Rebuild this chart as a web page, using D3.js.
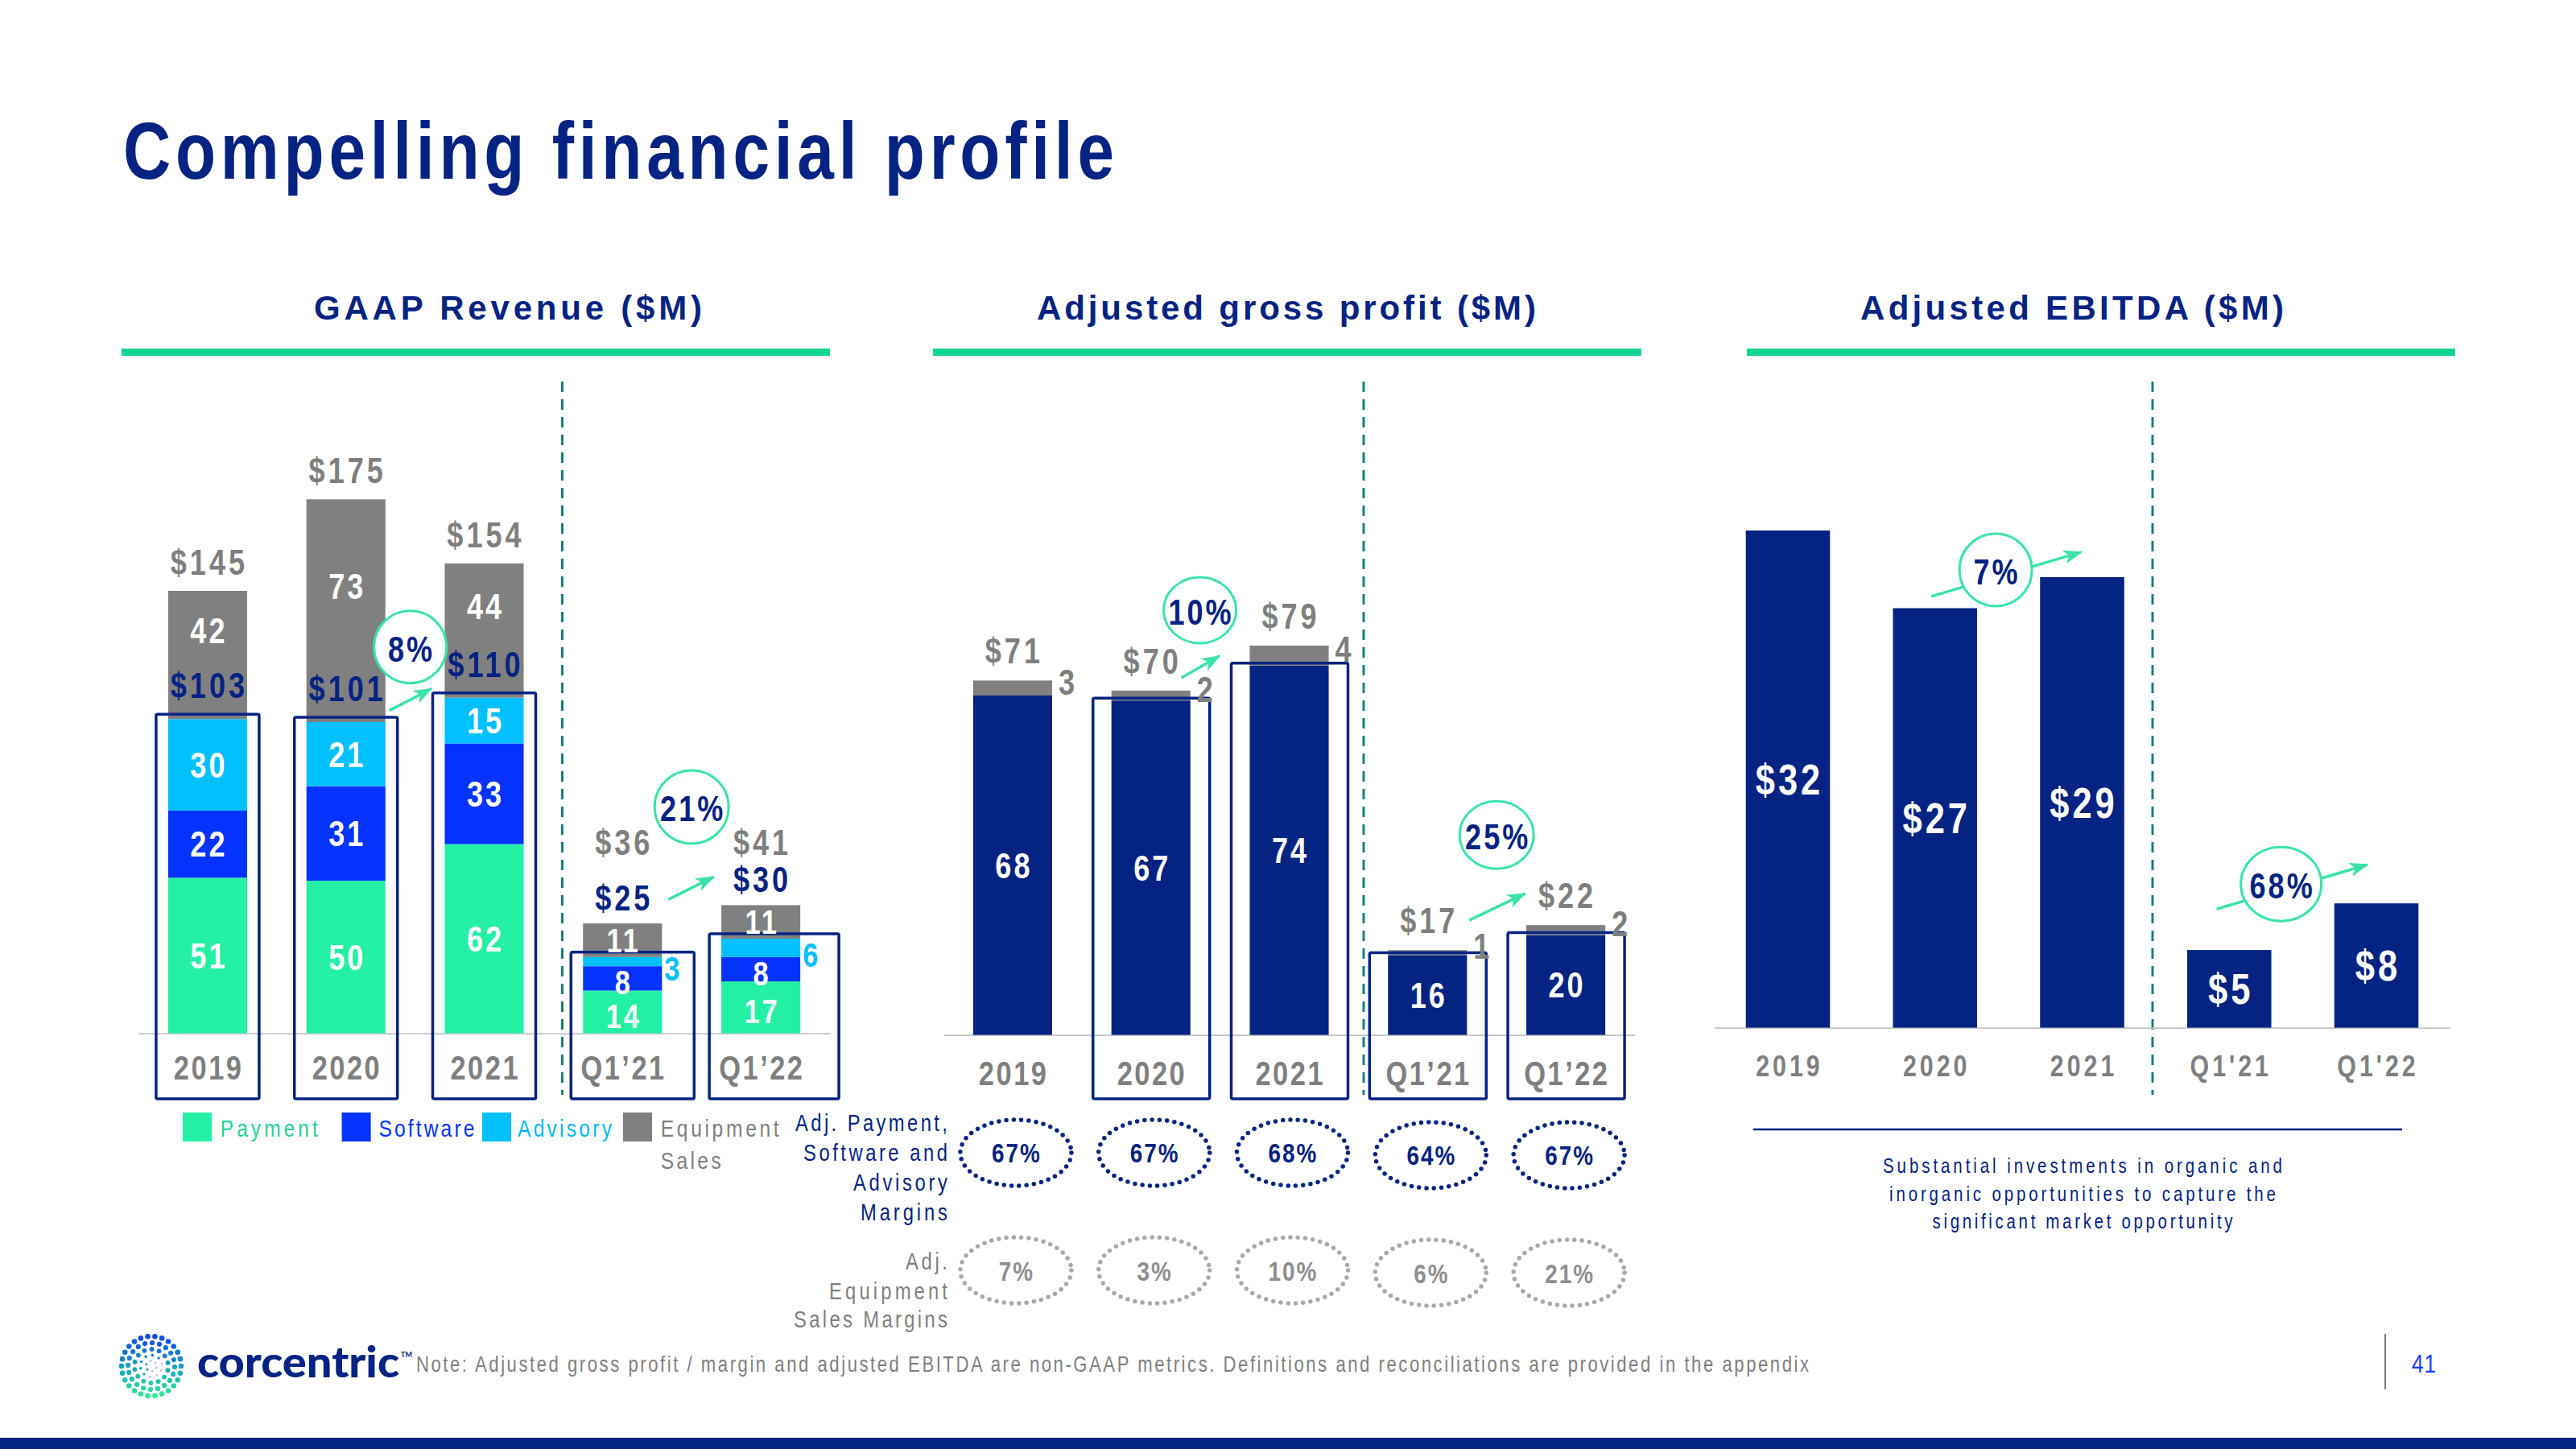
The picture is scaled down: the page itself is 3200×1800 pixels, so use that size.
<!DOCTYPE html>
<html><head><meta charset="utf-8">
<script src="https://cdn.jsdelivr.net/npm/d3@7"></script>
<style>html,body{margin:0;padding:0;background:#fff;} svg{display:block;}</style>
</head><body>
<svg id="c" width="3200" height="1800"></svg>
<script>
// ---------------- DATA ----------------
const categories = ["2019", "2020", "2021", "Q1’21", "Q1’22"];
const revPayment = [51, 50, 62, 14, 17];
const revSoftware = [22, 31, 33, 8, 8];
const revAdvisory = [30, 21, 15, 3, 6];
const revEquipment = [42, 73, 44, 11, 11];
const revSubtotalLabels = ["$103", "$101", "$110", "$25", "$30"];
const revTotalLabels = ["$145", "$175", "$154", "$36", "$41"];
const revGrowth = ["8%", "21%"];
const legendItems = ["Payment", "Software", "Advisory", "Equipment", "Sales"];

const gpServices = [68, 67, 74, 16, 20];
const gpEquipment = [3, 2, 4, 1, 2];
const gpTotalLabels = ["$71", "$70", "$79", "$17", "$22"];
const gpGrowth = ["10%", "25%"];
const marginServices = ["67%", "67%", "68%", "64%", "67%"];
const marginEquipment = ["7%", "3%", "10%", "6%", "21%"];

const ebitdaCategories = ["2019", "2020", "2021", "Q1'21", "Q1'22"];
const ebitda = [32, 27, 29, 5, 8];
const ebitdaGrowth = ["7%", "68%"];

// ---------------- STYLE / LAYOUT ----------------
const NAVY = "#052382", GRAY = "#7f7f7f", HEAD_GREEN = "#12d68e", BUB = "#3be3a9", TEAL = "#16807e";
const C_PAY = "#24f0a5", C_SW = "#0433ff", C_ADV = "#00c0ff", C_EQ = "#808080";

const NARROW_OK = (() => {
  const c = document.createElement('canvas').getContext('2d');
  c.font = 'bold 40px "Liberation Sans Narrow", monospace';
  const a = c.measureText('abcdefghij0123ABC').width;
  c.font = 'bold 40px monospace';
  const b = c.measureText('abcdefghij0123ABC').width;
  return Math.abs(a - b) > 1;
})();
const FAM = NARROW_OK ? '"Liberation Sans Narrow","Arial Narrow",sans-serif' : '"Liberation Sans",Arial,sans-serif';
const WIDE = '"Liberation Sans",Arial,sans-serif';
const SX = NARROW_OK ? 1 : 0.82;

const svg = d3.select('#c');
svg.append('rect').attr('width', 3200).attr('height', 1800).attr('fill', '#fff');
const defs = svg.append('defs');
defs.append('marker').attr('id', 'ah').attr('viewBox', '0 0 22 16').attr('refX', 20).attr('refY', 8)
  .attr('markerWidth', 24).attr('markerHeight', 18).attr('markerUnits', 'userSpaceOnUse').attr('orient', 'auto')
  .append('path').attr('d', 'M0,0 L22,8 L0,16 L6,8 Z').attr('fill', BUB);

function T(parent, x, y, s, o) {
  o = o || {};
  const size = o.size || 30, ls = o.ls || 0, anchor = o.anchor || 'start';
  const sx = o.family ? 1 : SX;
  const yy = o.mid ? y + size * 0.36 : y;
  let xx = x;
  if (ls && !o.len) { if (anchor === 'middle') xx += ls / 2; else if (anchor === 'end') xx += ls; }
  const t = parent.append('text').attr('x', xx).attr('y', yy).text(s)
    .attr('font-family', o.family || FAM).attr('font-size', size).attr('font-weight', o.weight || 'normal')
    .attr('fill', o.fill || '#000').attr('text-anchor', anchor);
  if (ls && !o.len) t.attr('letter-spacing', ls / sx);
  if (o.len) t.attr('textLength', o.len / sx).attr('lengthAdjust', 'spacing');
  if (sx !== 1) t.attr('transform', `translate(${xx},${yy}) scale(${sx},1) translate(${-xx},${-yy})`);
  return t;
}
function styleAxis(g, size, ls) {
  g.select('.domain').attr('stroke', '#c4c4c4').attr('stroke-width', 1.6);
  g.selectAll('.tick line').remove();
  g.selectAll('text').attr('font-family', FAM).attr('font-size', size).attr('font-weight', 'bold')
    .attr('fill', GRAY).attr('letter-spacing', ls / SX).attr('dx', (ls / 2) / SX)
    .attr('transform', SX !== 1 ? `scale(${SX},1)` : null);
}
function header(cx, x0, x1, label, len) {
  T(svg, cx, 397, label, { size: 42, weight: 'bold', fill: NAVY, anchor: 'middle', len: len, family: WIDE });
  svg.append('rect').attr('x', x0).attr('y', 433).attr('width', x1 - x0).attr('height', 9).attr('fill', HEAD_GREEN);
}
function divider(x) {
  svg.append('line').attr('x1', x).attr('x2', x).attr('y1', 474).attr('y2', 1360)
    .attr('stroke', TEAL).attr('stroke-width', 3).attr('stroke-dasharray', '13 9');
}
function bubble(g, label, cx, cy, rx, ry, a0, a1) {
  g.append('line').attr('x1', a0[0]).attr('y1', a0[1]).attr('x2', a1[0]).attr('y2', a1[1])
    .attr('stroke', BUB).attr('stroke-width', 3.5).attr('marker-end', 'url(#ah)');
  g.append('ellipse').attr('cx', cx).attr('cy', cy).attr('rx', rx).attr('ry', ry)
    .attr('fill', '#fff').attr('stroke', BUB).attr('stroke-width', 3);
  T(g, cx, cy + 2, label, { size: 44, weight: 'bold', fill: NAVY, anchor: 'middle', mid: true, ls: 3 });
}
const isQ = c => c.startsWith('Q');

// ---------------- TITLE ----------------
T(svg, 153, 222, "Compelling financial profile", { size: 100, weight: 'bold', fill: NAVY, len: 1231 });

header(631, 151, 1031, "GAAP Revenue ($M)", 482);
header(1598, 1159, 2039, "Adjusted gross profit ($M)", 620);
header(2574, 2170, 3050, "Adjusted EBITDA ($M)", 526);
divider(698.5); divider(1694); divider(2674);

// ---------------- LEFT: GAAP REVENUE ----------------
const xL = d3.scaleBand().domain(categories).range([172, 1031]).paddingInner(0.429).paddingOuter(0.2145);
const yL = d3.scaleLinear().domain([0, 175]).range([1283.6, 620.3]);
const bwL = xL.bandwidth();
const gL = svg.append('g');
const axL = gL.append('g').attr('transform', `translate(0,${yL(0)})`)
  .call(d3.axisBottom(xL).tickSize(0).tickPadding(27.6).tickSizeOuter(0));
styleAxis(axL, 42, 2.5);

const revRows = categories.map((c, i) => ({ cat: c, Payment: revPayment[i], Software: revSoftware[i], Advisory: revAdvisory[i], Equipment: revEquipment[i] }));
const revKeys = ["Payment", "Software", "Advisory", "Equipment"];
const revColors = { Payment: C_PAY, Software: C_SW, Advisory: C_ADV, Equipment: C_EQ };
const revStack = d3.stack().keys(revKeys)(revRows);
revStack.forEach(s => {
  gL.selectAll(null).data(s).enter().append('rect')
    .attr('x', d => xL(d.data.cat)).attr('width', bwL)
    .attr('y', d => yL(d[1])).attr('height', d => yL(d[0]) - yL(d[1]))
    .attr('fill', revColors[s.key]);
});
const boxExtraL = [0, 0, 0, 25, 33];
categories.forEach((c, i) => {
  const sub = revPayment[i] + revSoftware[i] + revAdvisory[i];
  const cx = xL(c) + bwL / 2;
  const top = yL(sub) - 6;
  gL.append('rect').attr('x', cx - 64).attr('y', top).attr('width', 128 + boxExtraL[i]).attr('height', 1365 - top)
    .attr('rx', 2).attr('fill', 'none').attr('stroke', NAVY).attr('stroke-width', 3.5);
});
revStack.forEach(s => {
  s.forEach((d, i) => {
    const c = d.data.cat, cx = xL(c) + bwL / 2, y0 = yL(d[0]), y1 = yL(d[1]), mid = (y0 + y1) / 2;
    const v = d[1] - d[0];
    if (s.key === 'Equipment') {
      const yy = (y0 - y1) > 100 ? mid - 30 : mid;
      T(gL, cx, yy, String(v), { size: isQ(c) ? 42 : 44, weight: 'bold', fill: '#fff', anchor: 'middle', mid: true, ls: 3 });
    } else if (s.key === 'Advisory' && isQ(c)) {
      T(gL, xL(c) + bwL + 3, mid + 8, String(v), { size: 42, weight: 'bold', fill: C_ADV, mid: true });
    } else {
      T(gL, cx, isQ(c) ? mid + 5 : mid, String(v), { size: isQ(c) ? 42 : 44, weight: 'bold', fill: '#fff', anchor: 'middle', mid: true, ls: 3 });
    }
  });
});
const revTot = categories.map((c, i) => revPayment[i] + revSoftware[i] + revAdvisory[i] + revEquipment[i]);
const qIdx = categories.map((c, i) => i).filter(i => isQ(categories[i]));
const qTotY = d3.mean(qIdx, i => yL(revTot[i])) - 90;
categories.forEach((c, i) => {
  const cx = xL(c) + bwL / 2;
  const sub = revPayment[i] + revSoftware[i] + revAdvisory[i];
  const tot = revTot[i];
  if (isQ(c)) {
    T(gL, cx, yL(tot) - 32, revSubtotalLabels[i], { size: 44, weight: 'bold', fill: NAVY, anchor: 'middle', mid: true, ls: 4 });
    T(gL, cx, qTotY, revTotalLabels[i], { size: 44, weight: 'bold', fill: GRAY, anchor: 'middle', mid: true, ls: 4 });
  } else {
    T(gL, cx, yL(sub) - 42, revSubtotalLabels[i], { size: 44, weight: 'bold', fill: NAVY, anchor: 'middle', mid: true, ls: 4 });
    T(gL, cx, yL(tot) - 36, revTotalLabels[i], { size: 44, weight: 'bold', fill: GRAY, anchor: 'middle', mid: true, ls: 4 });
  }
});
{
  const m1 = (xL(categories[1]) + xL(categories[2])) / 2 + bwL / 2, r1 = yL(revPayment[2] + revSoftware[2] + revAdvisory[2]);
  bubble(gL, revGrowth[0], m1 - 6, r1 - 63, 45, 45, [m1 - 32, r1 + 16], [m1 + 20, r1 - 11]);
  const m2 = (xL(categories[3]) + xL(categories[4])) / 2 + bwL / 2, r2 = yL(revTot[4]);
  bubble(gL, revGrowth[1], m2, r2 - 122, 46, 45.5, [m2 - 29, r2 - 7], [m2 + 27, r2 - 35]);
}
{
  const sq = [[227, C_PAY], [424.6, C_SW], [599, C_ADV], [774, C_EQ]];
  const tx = [[273.8, 121, "#1fd394"], [470.4, 119, C_SW], [643, 117, "#00b8f2"], [820.7, 147, GRAY]];
  sq.forEach(([x, col]) => gL.append('rect').attr('x', x).attr('y', 1382).attr('width', 36).attr('height', 36).attr('fill', col));
  tx.forEach(([x, len, col], i) => T(gL, x, 1412, legendItems[i], { size: 30, fill: col, len: len }));
  T(gL, 820.7, 1452, legendItems[4], { size: 30, fill: GRAY, len: 75 });
}

// ---------------- MIDDLE: ADJUSTED GROSS PROFIT ----------------
const xM = d3.scaleBand().domain(categories).range([1172, 2031]).paddingInner(0.429).paddingOuter(0.2145);
const yM = d3.scaleLinear().domain([0, 79]).range([1285.6, 1285.6 - 79 * 6.2]);
const bwM = xM.bandwidth();
const gM = svg.append('g');
const axM = gM.append('g').attr('transform', `translate(0,${yM(0)})`)
  .call(d3.axisBottom(xM).tickSize(0).tickPadding(33).tickSizeOuter(0));
styleAxis(axM, 42, 2.5);
const gpRows = categories.map((c, i) => ({ cat: c, svc: gpServices[i], eq: gpEquipment[i] }));
const gpStack = d3.stack().keys(["svc", "eq"])(gpRows);
const gpColors = { svc: NAVY, eq: C_EQ };
gpStack.forEach(s => {
  gM.selectAll(null).data(s).enter().append('rect')
    .attr('x', d => xM(d.data.cat)).attr('width', bwM)
    .attr('y', d => yM(d[1])).attr('height', d => yM(d[0]) - yM(d[1]))
    .attr('fill', gpColors[s.key]);
});
const boxedM = [false, true, true, true, true];
categories.forEach((c, i) => {
  if (!boxedM[i]) return;
  const cx = xM(c) + bwM / 2, top = yM(gpServices[i]) - 3;
  gM.append('rect').attr('x', cx - 72).attr('y', top).attr('width', 145).attr('height', 1365 - top)
    .attr('rx', 2).attr('fill', 'none').attr('stroke', NAVY).attr('stroke-width', 3.5);
});
categories.forEach((c, i) => {
  const cx = xM(c) + bwM / 2;
  const tot = gpServices[i] + gpEquipment[i];
  T(gM, cx, (yM(0) + yM(gpServices[i])) / 2, String(gpServices[i]), { size: 44, weight: 'bold', fill: '#fff', anchor: 'middle', mid: true, ls: 3 });
  T(gM, cx, yM(tot) - 37, gpTotalLabels[i], { size: 44, weight: 'bold', fill: GRAY, anchor: 'middle', mid: true, ls: 4 });
  T(gM, xM(c) + bwM + 8, (yM(tot) + yM(gpServices[i])) / 2 - 8, String(gpEquipment[i]), { size: 44, weight: 'bold', fill: GRAY, mid: true });
});
{
  const m1 = (xM(categories[1]) + xM(categories[2])) / 2 + bwM / 2, r1 = yM(gpServices[2] + gpEquipment[2]);
  bubble(gM, gpGrowth[0], m1 - 25, r1 - 44, 45, 41, [m1 - 48, r1 + 40], [m1 - 1, r1 + 13]);
  const m2 = (xM(categories[3]) + xM(categories[4])) / 2 + bwM / 2, r2 = yM(gpServices[4] + gpEquipment[4]);
  bubble(gM, gpGrowth[1], m2, r2 - 112, 46, 42, [m2 - 34, r2 - 6], [m2 + 35, r2 - 39]);
}
{
  const lab1 = [["Adj. Payment,", 189], ["Software and", 179], ["Advisory", 117], ["Margins", 108]];
  const b1 = [1405, 1442.5, 1479.5, 1516];
  lab1.forEach(([s, len], i) => T(gM, 1177, b1[i], s, { size: 29, fill: NAVY, anchor: 'end', len: len }));
  const lab2 = [["Adj.", 52], ["Equipment", 147], ["Sales Margins", 191]];
  const b2 = [1577, 1614, 1649];
  lab2.forEach(([s, len], i) => T(gM, 1177, b2[i], s, { size: 29, fill: GRAY, anchor: 'end', len: len }));
  categories.forEach((c, i) => {
    const cx = xM(c) + bwM / 2 + 4;
    const dy = i >= 3 ? 3 : 0;
    gM.append('ellipse').attr('cx', cx).attr('cy', 1432 + dy).attr('rx', 69).attr('ry', 41)
      .attr('fill', 'none').attr('stroke', NAVY).attr('stroke-width', 5.5).attr('stroke-linecap', 'round').attr('stroke-dasharray', '0 9.3');
    T(gM, cx, 1432 + dy, marginServices[i], { size: 34, weight: 'bold', fill: NAVY, anchor: 'middle', mid: true, ls: 2 });
    gM.append('ellipse').attr('cx', cx).attr('cy', 1578 + dy).attr('rx', 69).attr('ry', 41)
      .attr('fill', 'none').attr('stroke', '#a9a9a9').attr('stroke-width', 5.5).attr('stroke-linecap', 'round').attr('stroke-dasharray', '0 9.3');
    T(gM, cx, 1579 + dy, marginEquipment[i], { size: 34, weight: 'bold', fill: '#8e8e8e', anchor: 'middle', mid: true, ls: 2 });
  });
}

// ---------------- RIGHT: ADJUSTED EBITDA ----------------
const xR = d3.scaleBand().domain(ebitdaCategories).range([2129.6, 3043.4]).paddingInner(0.428).paddingOuter(0.214);
const yR = d3.scaleLinear().domain([0, 32]).range([1276.6, 1276.6 - 32 * 19.3]);
const bwR = xR.bandwidth();
const gR = svg.append('g');
const axR = gR.append('g').attr('transform', `translate(0,${yR(0)})`)
  .call(d3.axisBottom(xR).tickSize(0).tickPadding(34).tickSizeOuter(0));
styleAxis(axR, 37, 4);
gR.selectAll(null).data(ebitda).enter().append('rect')
  .attr('x', (d, i) => xR(ebitdaCategories[i])).attr('width', bwR)
  .attr('y', d => yR(d)).attr('height', d => yR(0) - yR(d)).attr('fill', NAVY);
ebitda.forEach((v, i) => {
  T(gR, xR(ebitdaCategories[i]) + bwR / 2, (yR(0) + yR(v)) / 2, "$" + v, { size: 53, weight: 'bold', fill: '#fff', anchor: 'middle', mid: true, ls: 4 });
});
{
  const m1 = (xR(ebitdaCategories[1]) + xR(ebitdaCategories[2])) / 2 + bwR / 2, r1 = yR(ebitda[2]);
  bubble(gR, ebitdaGrowth[0], m1 - 16, r1 - 9, 45, 45, [m1 - 96, r1 + 24], [m1 + 90, r1 - 31]);
  const m2 = (xR(ebitdaCategories[3]) + xR(ebitdaCategories[4])) / 2 + bwR / 2, r2 = yR(ebitda[4]);
  bubble(gR, ebitdaGrowth[1], m2 - 27, r2 - 24, 50, 46, [m2 - 107, r2 + 7], [m2 + 80, r2 - 48]);
}
gR.append('line').attr('x1', 2178).attr('x2', 2984).attr('y1', 1403).attr('y2', 1403).attr('stroke', NAVY).attr('stroke-width', 2.5);
[["Substantial investments in organic and", 1457, 496], ["inorganic opportunities to capture the", 1492, 480], ["significant market opportunity", 1526.5, 373]]
  .forEach(([s, y, len]) => T(gR, 2587, y, s, { size: 25, fill: NAVY, anchor: 'middle', len: len }));

// ---------------- FOOTER ----------------
{
  const logo = svg.append('g').attr('transform', 'translate(188,1697)');
  const col = d3.interpolateRgbBasis(['#1240e6', '#169fc4', '#2ff08e']);
  const rings = [[37, 26, 3.3], [29, 20, 3.1], [21, 14, 2.9], [13.5, 10, 1.8], [6.5, 6, 1.6]];
  rings.forEach(([r, n, dr], ri) => {
    for (let k = 0; k < n; k++) {
      const a = k / n * 2 * Math.PI + ri * 0.35;
      const px = r * Math.cos(a), py = r * Math.sin(a);
      const faint = ri >= 3 && px > -4 && py > -10 && py < 14;
      logo.append('circle').attr('cx', px).attr('cy', py).attr('r', faint ? 1.4 : dr)
        .attr('fill', faint ? '#b9c2cc' : col((py + 40) / 80));
    }
  });
  svg.append('text').attr('x', 245).attr('y', 1711).text('corcentric')
    .attr('font-family', 'Lato, "Open Sans", sans-serif').attr('font-weight', 900).attr('font-size', 54)
    .attr('fill', NAVY).attr('textLength', 251).attr('lengthAdjust', 'spacingAndGlyphs');
  svg.append('text').attr('x', 498).attr('y', 1686).text('TM')
    .attr('font-family', 'Lato, sans-serif').attr('font-weight', 700).attr('font-size', 9).attr('fill', NAVY);
  T(svg, 517, 1704, "Note: Adjusted gross profit / margin and adjusted EBITDA are non-GAAP metrics. Definitions and reconciliations are provided in the appendix",
    { size: 27, fill: GRAY, len: 1730 });
  svg.append('line').attr('x1', 2963).attr('x2', 2963).attr('y1', 1657).attr('y2', 1726).attr('stroke', GRAY).attr('stroke-width', 2);
  T(svg, 2996, 1705, "41", { size: 32, fill: '#1a3cff', len: 30 });
  svg.append('rect').attr('x', 0).attr('y', 1786).attr('width', 3200).attr('height', 14).attr('fill', NAVY);
}
</script>
</body></html>
